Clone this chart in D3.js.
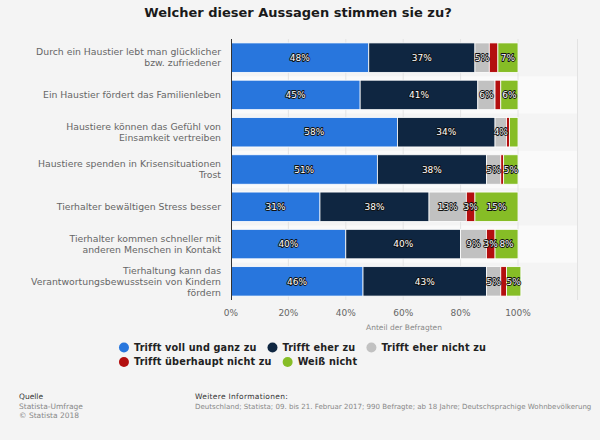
<!DOCTYPE html>
<html>
<head>
<meta charset="utf-8">
<script src="https://cdn.jsdelivr.net/npm/d3@7"></script>
<style>
    body { margin: 0; background: #f4f4f4; }
    svg { display: block; font-family: "DejaVu Sans", sans-serif; }
</style>
</head>
<body>
<div id="chart_area"></div>
<script>

// statements (one per row, split in lines like the original)
var categories = [
    ["Durch ein Haustier lebt man glücklicher", "bzw. zufriedener"],
    ["Ein Haustier fördert das Familienleben"],
    ["Haustiere können das Gefühl von", "Einsamkeit vertreiben"],
    ["Haustiere spenden in Krisensituationen", "Trost"],
    ["Tierhalter bewältigen Stress besser"],
    ["Tierhalter kommen schneller mit", "anderen Menschen in Kontakt"],
    ["Tierhaltung kann das", "Verantwortungsbewusstsein von Kindern", "fördern"]
];

var series_names = ["Trifft voll und ganz zu", "Trifft eher zu", "Trifft eher nicht zu",
    "Trifft überhaupt nicht zu", "Weiß nicht"];
var series_colors = ["#2876dd", "#0f2641", "#c1c1c1", "#b30f0f", "#86bd26"];

// values in %
var voll_zu     = [48, 45, 58, 51, 31, 40, 46];
var eher_zu     = [37, 41, 34, 38, 38, 40, 43];
var eher_nicht  = [5, 6, 4, 5, 13, 9, 5];
var gar_nicht   = [3, 2, 1, 1, 3, 3, 2];
var weiss_nicht = [7, 6, 3, 5, 15, 8, 5];

var x_ticks = [0, 20, 40, 60, 80, 100];

var svg_w = 600, svg_h = 440;
var plot_left = 231, plot_right = 577, plot_top = 39, plot_bottom = 300;

var svg = d3.select("#chart_area")
    .append("svg")
    .attr("width", svg_w)
    .attr("height", svg_h);

svg.append("rect")
    .attr("width", svg_w)
    .attr("height", svg_h)
    .style("fill", "#f4f4f4");

// title
svg.append("text")
    .attr("x", 298)
    .attr("y", 17)
    .attr("text-anchor", "middle")
    .style("font-size", "13px")
    .style("font-weight", "bold")
    .style("fill", "#1a1a1a")
    .text("Welcher dieser Aussagen stimmen sie zu?");

var rows = categories.map(function (c, i) {
    return {
        idx: i,
        s0: voll_zu[i], s1: eher_zu[i], s2: eher_nicht[i], s3: gar_nicht[i], s4: weiss_nicht[i]
    };
});

var xScale = d3.scaleLinear()
    .domain([0, 100])
    .range([plot_left, 518]);

var yScale = d3.scaleBand()
    .domain(d3.range(categories.length))
    .range([plot_top, plot_bottom])
    .paddingInner(0.21)
    .paddingOuter(0.105);

var step = yScale.step();

// alternating row stripes
svg.append("g")
    .selectAll("rect")
    .data(d3.range(categories.length).filter(function (i) { return i % 2 == 1; }))
    .enter()
    .append("rect")
    .attr("x", plot_left)
    .attr("y", function (i) { return plot_top + i * step; })
    .attr("width", plot_right - plot_left)
    .attr("height", step)
    .style("fill", "#fafafa");

// grid lines
svg.append("g")
    .selectAll("line")
    .data(x_ticks.slice(1))
    .enter()
    .append("line")
    .attr("x1", function (d) { return xScale(d); })
    .attr("x2", function (d) { return xScale(d); })
    .attr("y1", plot_top)
    .attr("y2", plot_bottom)
    .style("stroke", "#e4e4e4")
    .style("stroke-width", 1);

svg.append("line")
    .attr("x1", plot_right + 0.5)
    .attr("x2", plot_right + 0.5)
    .attr("y1", plot_top)
    .attr("y2", plot_bottom)
    .style("stroke", "#e2e2e2");

var stack = d3.stack().keys(["s0", "s1", "s2", "s3", "s4"]);
var stacked = stack(rows);

var bars_group = svg.append("g").attr("id", "bars_group");

stacked.forEach(function (layer, k) {
    bars_group.append("g")
        .selectAll("rect")
        .data(layer)
        .enter()
        .append("rect")
        .attr("x", function (d) { return xScale(d[0]); })
        .attr("y", function (d, i) { return yScale(i); })
        .attr("width", function (d) { return xScale(d[1]) - xScale(d[0]); })
        .attr("height", yScale.bandwidth())
        .style("fill", series_colors[k])
        .style("stroke", "#ffffff")
        .style("stroke-width", 0.8);
});

// left axis line
svg.append("line")
    .attr("x1", plot_left + 0.5)
    .attr("x2", plot_left + 0.5)
    .attr("y1", plot_top)
    .attr("y2", plot_bottom)
    .style("stroke", "#333")
    .style("stroke-width", 1);

// data labels, hide the ones that would overlap the previous label
var label_group = svg.append("g").attr("id", "label_group");
rows.forEach(function (r, i) {
    var last = null;
    stacked.forEach(function (layer, k) {
        var d = layer[i];
        var v = d[1] - d[0];
        var cx = xScale((d[0] + d[1]) / 2);
        var t = label_group.append("text")
            .attr("x", cx)
            .attr("y", yScale(i) + yScale.bandwidth() / 2)
            .attr("dy", "0.36em")
            .attr("text-anchor", "middle")
            .style("font-size", "9px")
            .style("fill", "#fff")
            .style("stroke", "#111")
            .style("stroke-width", 1.8)
            .style("stroke-linejoin", "round")
            .style("paint-order", "stroke")
            .text(v + "%");
        var w = t.node().getComputedTextLength();
        if (last && Math.abs(cx - last.cx) < (w + last.w) / 2) {
            t.remove();
        } else {
            last = { cx: cx, w: w };
        }
    });
});

// category labels
var cat_group = svg.append("g").attr("id", "cat_group");
categories.forEach(function (lines, i) {
    var cy = yScale(i) + yScale.bandwidth() / 2;
    var lh = 11;
    var t = cat_group.append("text")
        .attr("text-anchor", "end")
        .style("font-size", "9.3px")
        .style("fill", "#666");
    lines.forEach(function (l, j) {
        t.append("tspan")
            .attr("x", 221)
            .attr("y", cy + (j - (lines.length - 1) / 2) * lh)
            .attr("dy", "0.35em")
            .text(l);
    });
});

// x axis tick labels
svg.append("g")
    .selectAll("text")
    .data(x_ticks)
    .enter()
    .append("text")
    .attr("x", function (d) { return xScale(d); })
    .attr("y", 316)
    .attr("text-anchor", "middle")
    .style("font-size", "9px")
    .style("fill", "#666")
    .text(function (d) { return d + "%"; });

svg.append("text")
    .attr("x", (plot_left + plot_right) / 2)
    .attr("y", 330)
    .attr("text-anchor", "middle")
    .style("font-size", "7.5px")
    .style("fill", "#888")
    .text("Anteil der Befragten");

// legend
var legend = svg.append("g").attr("id", "legend");
var items = series_names.map(function (name, k) {
    var g = legend.append("g");
    g.append("circle")
        .attr("r", 5)
        .style("fill", series_colors[k]);
    var t = g.append("text")
        .attr("x", 10)
        .attr("dy", "0.35em")
        .style("font-size", "9.7px")
        .style("font-weight", "bold")
        .style("letter-spacing", "0.15px")
        .style("fill", "#222")
        .text(name);
    return { g: g, w: 10 + t.node().getComputedTextLength() };
});

var max_w = 400, gap = 16, row_h = 14.5;
var lines = [[]], cur = 0;
items.forEach(function (it) {
    if (cur > 0 && cur + it.w > max_w) {
        lines.push([]);
        cur = 0;
    }
    it.x = cur;
    lines[lines.length - 1].push(it);
    cur += it.w + gap;
});
var widest = d3.max(lines, function (l) {
    var e = l[l.length - 1];
    return e.x + e.w;
});
var legend_x = 300 - widest / 2 + 5;
lines.forEach(function (l, r) {
    l.forEach(function (it) {
        it.g.attr("transform", "translate(" + (legend_x + it.x) + "," + (347.5 + r * row_h) + ")");
    });
});

// footer
var footer = svg.append("g").style("font-size", "7.5px");
footer.append("text").attr("x", 19).attr("y", 399).style("fill", "#333").text("Quelle");
footer.append("text").attr("x", 19).attr("y", 409).style("fill", "#888").text("Statista-Umfrage");
footer.append("text").attr("x", 19).attr("y", 418).style("fill", "#888").text("© Statista 2018");
footer.append("text").attr("x", 195).attr("y", 399).style("fill", "#333")
    .style("letter-spacing", "0.3px").text("Weitere Informationen:");
footer.append("text").attr("x", 195).attr("y", 409).style("fill", "#888")
    .style("font-size", "7.05px")
    .text("Deutschland; Statista; 09. bis 21. Februar 2017; 990 Befragte; ab 18 Jahre; Deutschsprachige Wohnbevölkerung");

</script>
</body>
</html>
